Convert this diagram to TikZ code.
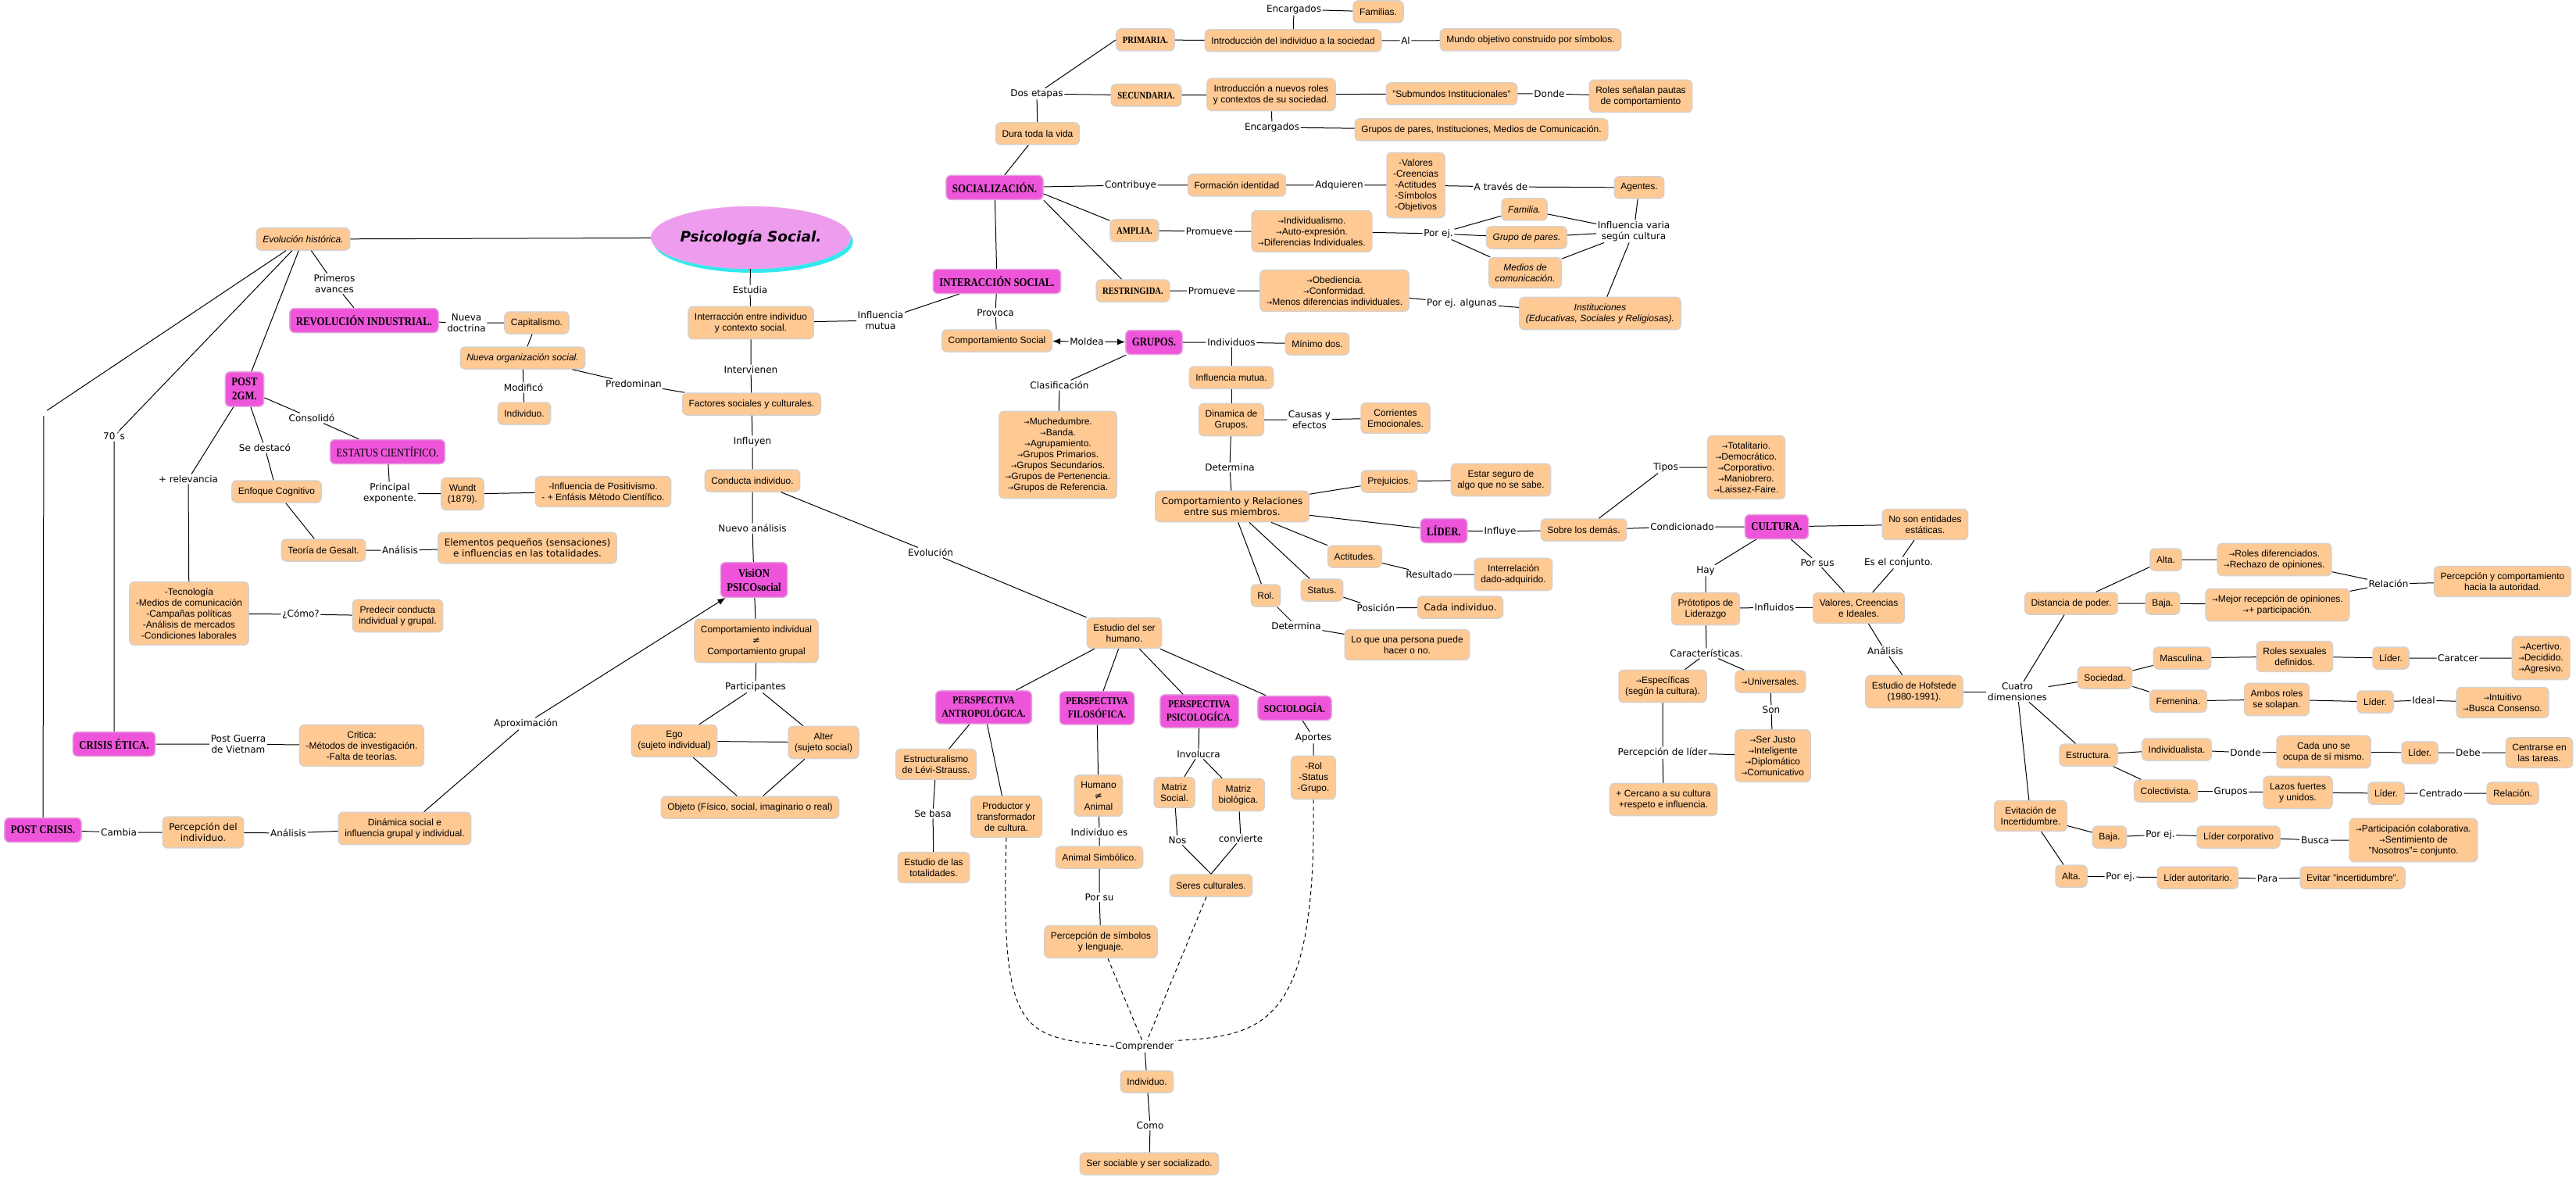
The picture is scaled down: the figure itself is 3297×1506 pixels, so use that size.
\documentclass[tikz,border=0pt]{standalone}
\usepackage{fontspec}
\setmainfont{Liberation Sans}
\newfontfamily\lblfont{DejaVu Sans}
\newfontfamily\headfont{Liberation Serif}[FakeStretch=0.85]
\usepackage{tikz}
\usetikzlibrary{arrows.meta, shapes.geometric, shadows}
\definecolor{boxFill}{HTML}{FFC993}
\definecolor{boxLine}{HTML}{D6D0CB}
\definecolor{headFill}{HTML}{EE55DA}
\definecolor{headLine}{HTML}{E3A8DE}
\definecolor{ellFill}{HTML}{EE9DEE}
\definecolor{ellLine}{HTML}{E6B4E6}
\definecolor{shadowCyan}{HTML}{33E8EE}
\newcommand{\rarr}{{\lblfont\fontsize{9}{14}\selectfont →}}
\newcommand{\neqsign}{{\lblfont ≠}}

\begin{document}
\begin{tikzpicture}[
  x=1pt, y=-1pt,
  ibox/.style={
    rectangle,
    draw=boxLine,
    fill=boxFill,
    rounded corners=6pt,
    line width=1.5pt,
    align=center,
    inner xsep=8pt,
    inner ysep=8pt,
    minimum height=28pt,
    font=\fontsize{12}{14}\selectfont
  },
  itbox/.style={ibox, font=\fontsize{12}{14}\selectfont\itshape},
  vbox/.style={ibox, font=\lblfont\fontsize{12}{14}\selectfont},
  sbox/.style={ibox, font=\headfont\bfseries\fontsize{12.5}{15}\selectfont},
  hbox/.style={
    ibox,
    draw=headLine,
    fill=headFill,
    minimum height=31pt,
    font=\headfont\bfseries\fontsize{15}{18}\selectfont
  },
  hsbox/.style={hbox, font=\headfont\bfseries\fontsize{13.5}{17}\selectfont},
  lnk/.style={inner sep=1.5pt, align=center, font=\lblfont\fontsize{12}{14}\selectfont},
  conn/.style={draw=black, line width=1pt},
  dconn/.style={conn, dash pattern=on 5pt off 4pt},
  arrowconn/.style={conn, -{Latex[length=10pt, width=8pt]}}
]
  \fill[white] (0,0) rectangle (3297,1506);
  \useasboundingbox (0,0) rectangle (3297,1506);

  % Define nodes - centre
  \node[ellipse, draw=ellLine, fill=ellFill, minimum width=219pt, minimum height=80pt, inner sep=0pt,
        drop shadow={shadow xshift=3pt, shadow yshift=-5pt, fill=shadowCyan, opacity=1},
        font=\lblfont\bfseries\itshape\fontsize{18.5}{22}\selectfont] (psico) at (961,304) {Psicología Social.};
  \node[lnk] (estudia) at (960,371) {Estudia};
  \node[ibox] (interr) at (961,413) {Interracción entre individuo\\y contexto social.};
  \node[lnk] (infmut) at (1127,410) {Influencia\\mutua};
  \node[lnk] (interv) at (961,473) {Intervienen};
  \node[ibox] (factores) at (962,517) {Factores sociales y culturales.};
  \node[lnk] (influyen) at (963,565) {Influyen};
  \node[ibox] (conducta) at (963,615) {Conducta individuo.};
  \node[lnk] (nuevoan) at (963,676) {Nuevo análisis};
  \node[hbox] (vision) at (965,742) {VisiON\\PSICOsocial};
  \node[ibox] (compind) at (968,820) {Comportamiento individual\\\neqsign\\Comportamiento grupal};
  \node[lnk] (partic) at (967,879) {Participantes};
  \node[ibox] (ego) at (863,948) {Ego\\(sujeto individual)};
  \node[ibox] (alter) at (1054,950) {Alter\\(sujeto social)};
  \node[ibox] (objeto) at (960,1033) {Objeto (Físico, social, imaginario o real)};
  \node[lnk] (evolucion) at (1191,707) {Evolución};

  % Define nodes - left
  \node[itbox] (evo) at (388,306) {Evolución histórica.};
  \node[lnk] (primav) at (428,363) {Primeros\\avances};
  \node[hbox] (revind) at (466,410) {REVOLUCIÓN INDUSTRIAL.};
  \node[lnk] (nuevadoc) at (597,413) {Nueva\\doctrina};
  \node[ibox] (capital) at (687,413) {Capitalismo.};
  \node[itbox] (nuevaorg) at (669,458) {Nueva organización social.};
  \node[lnk] (modifico) at (670,496) {Modificó};
  \node[ibox] (indiv1) at (671,529) {Individuo.};
  \node[lnk] (predom) at (811,491) {Predominan};
  \node[hbox] (post2gm) at (313,498) {POST\\2GM.};
  \node[lnk] (consol) at (399,535) {Consolidó};
  \node[hbox, font=\headfont\fontsize{15}{18}\selectfont] (estatus) at (496,578) {ESTATUS CIENTÍFICO.};
  \node[lnk] (princ) at (499,631) {Principal\\exponente.};
  \node[ibox] (wundt) at (592,632) {Wundt\\(1879).};
  \node[ibox] (positiv) at (772,629) {-Influencia de Positivismo.\\- + Enfásis Método Científico.};
  \node[lnk] (sedest) at (339,573) {Se destacó};
  \node[ibox] (enfoque) at (354,629) {Enfoque Cognitivo};
  \node[ibox] (gesalt) at (414,704) {Teoría de Gesalt.};
  \node[lnk] (analisis1) at (512,704) {Análisis};
  \node[vbox] (elem) at (675,701) {Elementos pequeños (sensaciones)\\e influencias en las totalidades.};
  \node[lnk] (relev) at (241,613) {+ relevancia};
  \node[ibox] (tecno) at (242,785) {-Tecnología\\-Medios de comunicación\\-Campañas políticas\\-Análisis de mercados\\-Condiciones laborales};
  \node[lnk] (como1) at (385,786) {¿Cómo?};
  \node[ibox] (predecir) at (509,788) {Predecir conducta\\individual y grupal.};
  \node[lnk] (setenta) at (146,558) {70´s};
  \node[hbox] (crisis) at (146,952) {CRISIS ÉTICA.};
  \node[lnk] (postguerra) at (305,952) {Post Guerra\\de Vietnam};
  \node[ibox] (critica) at (463,954) {Critica:\\-Métodos de investigación.\\-Falta de teorías.};
  \node[lnk, minimum size=8pt] (gap) at (56,528) {};
  \node[hbox] (postcrisis) at (55,1062) {POST CRISIS.};
  \node[lnk] (cambia) at (152,1065) {Cambia};
  \node[vbox] (percind) at (260,1065) {Percepción del\\individuo.};
  \node[lnk] (analisis2) at (369,1066) {Análisis};
  \node[ibox] (dinsoc) at (518,1060) {Dinámica social e\\influencia grupal y individual.};
  \node[lnk] (aprox) at (673,926) {Aproximación};

  % Define nodes - socializacion
  \node[hbox] (soc) at (1273,240) {SOCIALIZACIÓN.};
  \node[ibox] (dura) at (1328,171) {Dura toda la vida};
  \node[lnk] (dosetapas) at (1327,120) {Dos etapas};
  \node[sbox] (primaria) at (1466,51) {PRIMARIA.};
  \node[sbox] (secundaria) at (1467,122) {SECUNDARIA.};
  \node[ibox] (intro1) at (1655,52) {Introducción del individuo a la sociedad};
  \node[lnk] (encarg1) at (1656,12) {Encargados};
  \node[ibox] (familias) at (1764,15) {Familias.};
  \node[lnk] (al) at (1799,52) {Al};
  \node[ibox] (mundo) at (1959,51) {Mundo objetivo construido por símbolos.};
  \node[ibox] (intro2) at (1627,121) {Introducción a nuevos roles\\y contextos de su sociedad.};
  \node[ibox] (submundos) at (1858,120) {"Submundos Institucionales"};
  \node[lnk] (donde1) at (1983,120) {Donde};
  \node[ibox] (roles) at (2100,123) {Roles señalan pautas\\de comportamiento};
  \node[lnk] (encarg2) at (1628,163) {Encargados};
  \node[ibox] (grupospares) at (1896,166) {Grupos de pares, Instituciones, Medios de Comunicación.};
  \node[lnk] (contrib) at (1447,237) {Contribuye};
  \node[ibox] (formid) at (1583,237) {Formación identidad};
  \node[lnk] (adquieren) at (1714,237) {Adquieren};
  \node[ibox] (valores) at (1812,237) {-Valores\\-Creencias\\-Actitudes\\-Símbolos\\-Objetivos};
  \node[lnk] (atraves) at (1921,239) {A través de};
  \node[ibox] (agentes) at (2098,240) {Agentes.};
  \node[lnk] (infvaria) at (2091,296) {Influencia varia\\según cultura};
  \node[itbox] (familia) at (1951,268) {Familia.};
  \node[itbox] (grupopares) at (1954,304) {Grupo de pares.};
  \node[itbox] (medios) at (1952,349) {Medios de\\comunicación.};
  \node[lnk] (porej1) at (1841,299) {Por ej.};
  \node[itbox] (instit) at (2048,401) {Instituciones\\(Educativas, Sociales y Religiosas).};
  \node[lnk] (porejalg) at (1871,388) {Por ej. algunas};
  \node[sbox] (amplia) at (1452,295) {AMPLIA.};
  \node[lnk] (promueve1) at (1548,296) {Promueve};
  \node[ibox] (individ) at (1679,296) {\rarr Individualismo.\\\rarr Auto-expresión.\\\rarr Diferencias Individuales.};
  \node[sbox] (restr) at (1450,372) {RESTRINGIDA.};
  \node[lnk] (promueve2) at (1551,372) {Promueve};
  \node[ibox] (obed) at (1708,372) {\rarr Obediencia.\\\rarr Conformidad.\\\rarr Menos diferencias individuales.};

  % Define nodes - grupos
  \node[hbox] (intsoc) at (1276,360) {INTERACCIÓN SOCIAL.};
  \node[lnk] (provoca) at (1274,400) {Provoca};
  \node[ibox] (compsoc) at (1276,436) {Comportamiento Social};
  \node[lnk] (moldea) at (1391,437) {Moldea};
  \node[hbox] (grupos) at (1477,438) {GRUPOS.};
  \node[lnk] (individuos) at (1576,438) {Individuos};
  \node[ibox] (minimo) at (1686,440) {Mínimo dos.};
  \node[ibox] (infmutua) at (1576,483) {Influencia mutua.};
  \node[lnk] (clasif) at (1356,493) {Clasificación};
  \node[ibox] (muched) at (1354,582) {\rarr Muchedumbre.\\\rarr Banda.\\\rarr Agrupamiento.\\\rarr Grupos Primarios.\\\rarr Grupos Secundarios.\\\rarr Grupos de Pertenencia.\\\rarr Grupos de Referencia.};
  \node[ibox] (dinamica) at (1576,537) {Dinamica de\\Grupos.};
  \node[lnk] (causas) at (1676,537) {Causas y\\efectos};
  \node[ibox] (corrientes) at (1786,535) {Corrientes\\Emocionales.};
  \node[lnk] (determ1) at (1574,598) {Determina};
  \node[vbox] (comprel) at (1577,648) {Comportamiento y Relaciones\\entre sus miembros.};
  \node[ibox] (prejuicios) at (1778,616) {Prejuicios.};
  \node[ibox] (estarseg) at (1921,614) {Estar seguro de\\algo que no se sabe.};
  \node[hbox] (lider) at (1848,679) {LÍDER.};
  \node[lnk] (influye) at (1920,680) {Influye};
  \node[ibox] (sobre) at (2027,678) {Sobre los demás.};
  \node[ibox] (actitudes) at (1734,712) {Actitudes.};
  \node[lnk] (resultado) at (1829,735) {Resultado};
  \node[ibox] (interrel) at (1937,735) {Interrelación\\dado-adquirido.};
  \node[ibox] (status) at (1692,755) {Status.};
  \node[lnk] (posicion) at (1761,778) {Posición};
  \node[vbox] (cadaind) at (1869,777) {Cada individuo.};
  \node[ibox] (rol) at (1620,762) {Rol.};
  \node[lnk] (determ2) at (1659,801) {Determina};
  \node[ibox] (loque) at (1801,825) {Lo que una persona puede\\hacer o no.};

  % Define nodes - perspectivas
  \node[ibox] (estudioser) at (1439,810) {Estudio del ser\\humano.};
  \node[hsbox] (pantro) at (1259,905) {PERSPECTIVA\\ANTROPOLÓGICA.};
  \node[hsbox] (pfilo) at (1404,906) {PERSPECTIVA\\FILOSÓFICA.};
  \node[hsbox] (psicol) at (1535,910) {PERSPECTIVA\\PSICOLOGÍCA.};
  \node[hsbox] (socio) at (1657,906) {SOCIOLOGÍA.};
  \node[ibox] (estruct) at (1198,978) {Estructuralismo\\de Lévi-Strauss.};
  \node[lnk] (sebasa) at (1194,1041) {Se basa};
  \node[ibox] (totalid) at (1195,1110) {Estudio de las\\totalidades.};
  \node[ibox] (productor) at (1288,1045) {Productor y\\transformador\\de cultura.};
  \node[ibox] (humano) at (1406,1018) {Humano\\\neqsign\\Animal};
  \node[lnk] (indives) at (1407,1065) {Individuo es};
  \node[ibox] (animsimb) at (1407,1097) {Animal Simbólico.};
  \node[lnk] (porsu) at (1407,1148) {Por su};
  \node[ibox] (percsimb) at (1409,1205) {Percepción de símbolos\\y lenguaje.};
  \node[lnk] (involucra) at (1534,965) {Involucra};
  \node[ibox] (matsoc) at (1503,1014) {Matriz\\Social.};
  \node[ibox] (matbio) at (1585,1017) {Matriz\\biológica.};
  \node[lnk] (nos) at (1507,1075) {Nos};
  \node[lnk] (convierte) at (1588,1073) {convierte};
  \node[ibox] (seres) at (1550,1133) {Seres culturales.};
  \node[lnk] (aportes) at (1681,944) {Aportes};
  \node[ibox] (rolstat) at (1681,995) {-Rol\\-Status\\-Grupo.};
  \node[lnk] (comprender) at (1465,1339) {Comprender};
  \node[ibox] (indiv2) at (1468,1384) {Individuo.};
  \node[lnk] (como2) at (1472,1440) {Como};
  \node[ibox] (sersoc) at (1471,1489) {Ser sociable y ser socializado.};

  % Define nodes - cultura
  \node[lnk] (tipos) at (2132,598) {Tipos};
  \node[ibox] (totalit) at (2235,598) {\rarr Totalitario.\\\rarr Democrático.\\\rarr Corporativo.\\\rarr Maniobrero.\\\rarr Laissez-Faire.};
  \node[lnk] (condic) at (2153,674) {Condicionado};
  \node[hbox] (cultura) at (2274,674) {CULTURA.};
  \node[ibox] (nosoent) at (2464,671) {No son entidades\\estáticas.};
  \node[lnk] (esconj) at (2430,720) {Es el conjunto.};
  \node[lnk] (hay) at (2183,730) {Hay};
  \node[lnk] (porsus) at (2326,720) {Por sus};
  \node[ibox] (prototip) at (2183,779) {Prótotipos de\\Liderazgo};
  \node[lnk] (influidos) at (2271,777) {Influidos};
  \node[ibox] (valcre) at (2379,778) {Valores, Creencias\\e Ideales.};
  \node[lnk] (analisis3) at (2413,833) {Análisis};
  \node[ibox] (hofstede) at (2450,885) {Estudio de Hofstede\\(1980-1991).};
  \node[lnk] (caract) at (2184,836) {Características.};
  \node[ibox] (especif) at (2128,878) {\rarr Específicas\\(según la cultura).};
  \node[ibox] (univers) at (2266,872) {\rarr Universales.};
  \node[lnk] (son) at (2267,908) {Son};
  \node[ibox] (serjusto) at (2269,967) {\rarr Ser Justo\\\rarr Inteligente\\\rarr Diplomático\\\rarr Comunicativo};
  \node[lnk] (perclider) at (2128,963) {Percepción de líder};
  \node[ibox] (cercano) at (2129,1023) {+ Cercano a su cultura\\+respeto e influencia.};

  % Define nodes - dimensiones
  \node[lnk] (cuatro) at (2582,885) {Cuatro\\dimensiones};
  \node[ibox] (distancia) at (2651,772) {Distancia de poder.};
  \node[ibox] (alta1) at (2772,716) {Alta.};
  \node[ibox] (baja1) at (2768,772) {Baja.};
  \node[ibox] (rolesdif) at (2911,716) {\rarr Roles diferenciados.\\\rarr Rechazo de opiniones.};
  \node[ibox] (mejor) at (2915,774) {\rarr Mejor recepción de opiniones.\\\rarr + participación.};
  \node[lnk] (relacion) at (3057,747) {Relación};
  \node[ibox] (perccomp) at (3203,744) {Percepción y comportamiento\\hacia la autoridad.};
  \node[ibox] (sociedad) at (2694,867) {Sociedad.};
  \node[ibox] (masculina) at (2793,842) {Masculina.};
  \node[ibox] (femenina) at (2788,897) {Femenina.};
  \node[ibox] (rolessex) at (2937,840) {Roles sexuales\\definidos.};
  \node[ibox] (lider1) at (3060,842) {Líder.};
  \node[lnk] (caratcer) at (3146,842) {Caratcer};
  \node[ibox] (acertivo) at (3252,842) {\rarr Acertivo.\\\rarr Decidido.\\\rarr Agresivo.};
  \node[ibox] (ambos) at (2914,895) {Ambos roles\\se solapan.};
  \node[ibox] (lider2) at (3040,898) {Líder.};
  \node[lnk] (ideal) at (3102,896) {Ideal};
  \node[ibox] (intuitivo) at (3203,899) {\rarr Intuitivo\\\rarr Busca Consenso.};
  \node[ibox] (estructura) at (2673,966) {Estructura.};
  \node[ibox] (individual) at (2786,959) {Individualista.};
  \node[lnk] (donde2) at (2874,963) {Donde};
  \node[ibox] (cadauno) at (2974,962) {Cada uno se\\ocupa de sí mismo.};
  \node[ibox] (lider3) at (3097,963) {Líder.};
  \node[lnk] (debe) at (3159,963) {Debe};
  \node[ibox] (centrarse) at (3250,963) {Centrarse en\\las tareas.};
  \node[ibox] (colectiv) at (2772,1012) {Colectivista.};
  \node[lnk] (grupos2) at (2855,1013) {Grupos};
  \node[ibox] (lazos) at (2941,1014) {Lazos fuertes\\y unidos.};
  \node[ibox] (lider4) at (3054,1015) {Líder.};
  \node[lnk] (centrado) at (3124,1015) {Centrado};
  \node[ibox] (relacion2) at (3216,1015) {Relación.};
  \node[ibox] (evitacion) at (2599,1044) {Evitación de\\Incertidumbre.};
  \node[ibox] (baja2) at (2700,1071) {Baja.};
  \node[lnk] (porej2) at (2765,1068) {Por ej.};
  \node[ibox] (lidcorp) at (2865,1071) {Líder corporativo};
  \node[lnk] (busca) at (2963,1075) {Busca};
  \node[ibox] (particip) at (3089,1075) {\rarr Participación colaborativa.\\\rarr Sentimiento de\\"Nosotros"= conjunto.};
  \node[ibox] (alta2) at (2651,1121) {Alta.};
  \node[lnk] (porej3) at (2714,1122) {Por ej.};
  \node[ibox] (lidaut) at (2813,1123) {Líder autoritario.};
  \node[lnk] (para) at (2902,1124) {Para};
  \node[ibox] (evitar) at (3011,1123) {Evitar "incertidumbre".};

  % Connect nodes - left
  \draw[conn] (evo) -- (psico);
  \draw[conn] (evo) -- (gap) -- (postcrisis);
  \draw[conn] (evo) -- (setenta) -- (crisis);
  \draw[conn] (evo) -- (post2gm);
  \draw[conn] (evo) -- (primav) -- (revind);
  \draw[conn] (revind) -- (nuevadoc) -- (capital);
  \draw[conn] (capital) -- (nuevaorg);
  \draw[conn] (nuevaorg) -- (modifico) -- (indiv1);
  \draw[conn] (nuevaorg) -- (predom) -- (factores);
  \draw[conn] (post2gm) -- (consol) -- (estatus);
  \draw[conn] (estatus) -- (princ) -- (wundt) -- (positiv);
  \draw[conn] (post2gm) -- (sedest) -- (enfoque);
  \draw[conn] (enfoque) -- (gesalt) -- (analisis1) -- (elem);
  \draw[conn] (post2gm) -- (relev) -- (tecno);
  \draw[conn] (tecno) -- (como1) -- (predecir);
  \draw[conn] (crisis) -- (postguerra) -- (critica);
  \draw[conn] (postcrisis) -- (cambia) -- (percind) -- (analisis2) -- (dinsoc);
  \draw[conn] (dinsoc) -- (aprox);
  \draw[arrowconn] (aprox) -- (vision);

  % Connect nodes - centre
  \draw[conn] (psico) -- (estudia) -- (interr);
  \draw[conn] (interr) -- (infmut) -- (intsoc);
  \draw[conn] (interr) -- (interv) -- (factores);
  \draw[conn] (factores) -- (influyen) -- (conducta);
  \draw[conn] (conducta) -- (nuevoan) -- (vision);
  \draw[conn] (conducta) -- (evolucion) -- (estudioser);
  \draw[conn] (vision) -- (compind) -- (partic);
  \draw[conn] (partic) -- (ego);
  \draw[conn] (partic) -- (alter);
  \draw[conn] (ego) -- (alter);
  \draw[conn] (ego) -- (objeto);
  \draw[conn] (alter) -- (objeto);

  % Connect nodes - socializacion
  \draw[conn] (intsoc) -- (soc) -- (dura) -- (dosetapas);
  \draw[conn] (dosetapas) -- (primaria.west);
  \draw[conn] (dosetapas) -- (secundaria);
  \draw[conn] (primaria) -- (intro1);
  \draw[conn] (intro1) -- (encarg1) -- (familias);
  \draw[conn] (intro1) -- (al) -- (mundo);
  \draw[conn] (secundaria) -- (intro2) -- (submundos) -- (donde1) -- (roles);
  \draw[conn] (intro2) -- (encarg2) -- (grupospares);
  \draw[conn] (soc) -- (contrib) -- (formid) -- (adquieren) -- (valores) -- (atraves) -- (agentes);
  \draw[conn] (agentes) -- (infvaria);
  \draw[conn] ([yshift=-8pt]soc.east) -- (amplia);
  \draw[conn] (amplia) -- (promueve1) -- (individ) -- (porej1);
  \draw[conn] (porej1) -- (familia);
  \draw[conn] (porej1) -- (grupopares);
  \draw[conn] (porej1) -- (medios);
  \draw[conn] (familia) -- (infvaria);
  \draw[conn] (grupopares) -- (infvaria);
  \draw[conn] (medios) -- (infvaria);
  \draw[conn] (infvaria) -- (instit);
  \draw[conn] (soc.south east) -- (restr);
  \draw[conn] (restr) -- (promueve2) -- (obed) -- (porejalg) -- (instit);

  % Connect nodes - grupos
  \draw[conn] (intsoc) -- (provoca) -- (compsoc);
  \draw[arrowconn] (moldea) -- (compsoc);
  \draw[arrowconn] (moldea) -- (grupos);
  \draw[conn] (grupos) -- (individuos) -- (minimo);
  \draw[conn] (individuos) -- (infmutua) -- (dinamica);
  \draw[conn] (grupos) -- (clasif) -- (muched);
  \draw[conn] (dinamica) -- (causas) -- (corrientes);
  \draw[conn] (dinamica) -- (determ1) -- (comprel);
  \draw[conn] (comprel) -- (prejuicios) -- (estarseg);
  \draw[conn] (comprel) -- (lider) -- (influye) -- (sobre);
  \draw[conn] (comprel) -- (actitudes) -- (resultado) -- (interrel);
  \draw[conn] (comprel) -- (status) -- (posicion) -- (cadaind);
  \draw[conn] (comprel) -- (rol) -- (determ2) -- (loque);

  % Connect nodes - perspectivas
  \draw[conn] (estudioser) -- (pantro);
  \draw[conn] (estudioser) -- (pfilo);
  \draw[conn] (estudioser) -- (psicol);
  \draw[conn] (estudioser) -- (socio);
  \draw[conn] (pantro) -- (estruct) -- (sebasa) -- (totalid);
  \draw[conn] (pantro) -- (productor);
  \draw[conn] (pfilo) -- (humano) -- (indives) -- (animsimb) -- (porsu) -- (percsimb);
  \draw[conn] (psicol) -- (involucra);
  \draw[conn] (involucra) -- (matsoc) -- (nos) -- (seres.north);
  \draw[conn] (involucra) -- (matbio) -- (convierte) -- (seres.north);
  \draw[conn] (socio) -- (aportes) -- (rolstat);
  \draw[dconn] (productor.south) .. controls +(-8,258) and +(-117,-14) .. (comprender.west);
  \draw[dconn] (percsimb) -- (comprender);
  \draw[dconn] (seres) -- (comprender);
  \draw[dconn] (rolstat.south) .. controls +(4,287) and +(116,-6) .. (comprender.north east);
  \draw[conn] (comprender) -- (indiv2) -- (como2) -- (sersoc);

  % Connect nodes - cultura
  \draw[conn] (sobre) -- (tipos) -- (totalit);
  \draw[conn] (sobre) -- (condic) -- (cultura) -- (nosoent);
  \draw[conn] (nosoent) -- (esconj) -- (valcre);
  \draw[conn] (cultura) -- (hay) -- (prototip);
  \draw[conn] (cultura) -- (porsus) -- (valcre);
  \draw[conn] (prototip) -- (influidos) -- (valcre);
  \draw[conn] (valcre) -- (analisis3) -- (hofstede);
  \draw[conn] (prototip) -- (caract);
  \draw[conn] (caract) -- (especif);
  \draw[conn] (caract) -- (univers);
  \draw[conn] (univers) -- (son) -- (serjusto);
  \draw[conn] (especif) -- (perclider) -- (cercano);
  \draw[conn] (perclider) -- (serjusto);

  % Connect nodes - dimensiones
  \draw[conn] (hofstede) -- (cuatro);
  \draw[conn] (cuatro) -- (distancia);
  \draw[conn] (cuatro) -- (sociedad);
  \draw[conn] (cuatro) -- (estructura);
  \draw[conn] (cuatro) -- (evitacion);
  \draw[conn] (distancia) -- (alta1) -- (rolesdif) -- (relacion);
  \draw[conn] (distancia) -- (baja1) -- (mejor) -- (relacion);
  \draw[conn] (relacion) -- (perccomp);
  \draw[conn] (sociedad) -- (masculina) -- (rolessex) -- (lider1) -- (caratcer) -- (acertivo);
  \draw[conn] (sociedad) -- (femenina) -- (ambos) -- (lider2) -- (ideal) -- (intuitivo);
  \draw[conn] (estructura) -- (individual) -- (donde2) -- (cadauno) -- (lider3) -- (debe) -- (centrarse);
  \draw[conn] (estructura) -- (colectiv) -- (grupos2) -- (lazos) -- (lider4) -- (centrado) -- (relacion2);
  \draw[conn] (evitacion) -- (baja2) -- (porej2) -- (lidcorp) -- (busca) -- (particip);
  \draw[conn] (evitacion) -- (alta2) -- (porej3) -- (lidaut) -- (para) -- (evitar);
\end{tikzpicture}
\end{document}
